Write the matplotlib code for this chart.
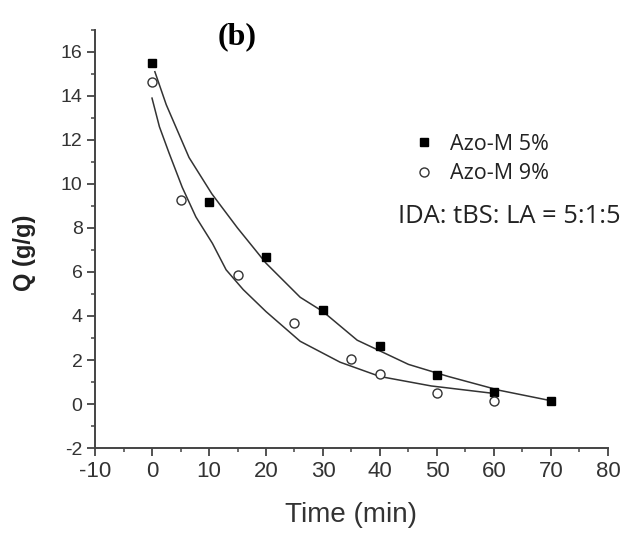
import numpy as np
import matplotlib.pyplot as plt
from matplotlib.ticker import MultipleLocator

# measured points
t_5 = [0, 10, 20, 30, 40, 50, 60, 70]
q_5 = [15.5, 9.2, 6.7, 4.25, 2.65, 1.3, 0.55, 0.15]
t_9 = [0, 5, 15, 25, 35, 40, 50, 60]
q_9 = [14.65, 9.25, 5.85, 3.7, 2.05, 1.35, 0.5, 0.12]

# fitted curves
fit_t5 = [0.5, 2.5, 6.5, 10.5, 15, 20, 26, 30, 36, 45, 52, 61, 70]
fit_q5 = [15.1, 13.6, 11.2, 9.55, 8.0, 6.4, 4.85, 4.2, 2.9, 1.8, 1.25, 0.62, 0.15]
fit_t9 = [0, 1.3, 3, 5.3, 7.7, 10.6, 13, 16, 20, 26, 33, 40, 49, 60]
fit_q9 = [13.9, 12.6, 11.4, 9.85, 8.5, 7.3, 6.1, 5.2, 4.2, 2.85, 1.9, 1.25, 0.82, 0.48]

plt.rcParams['font.family'] = ['Liberation Sans', 'DejaVu Sans']
plt.rcParams['axes.unicode_minus'] = False

fig = plt.figure(figsize=(6.23, 5.34), dpi=100)
ax = fig.add_axes([0.1525, 0.161, 0.8234, 0.783])

ax.plot(fit_t5, fit_q5, color='#333333', lw=1.1)
ax.plot(fit_t9, fit_q9, color='#333333', lw=1.1)
h1, = ax.plot(t_5, q_5, 's', color='black', ms=5.5, label='Azo-M 5%')
h2, = ax.plot(t_9, q_9, 'o', mfc='white', mec='#333333', mew=1.0, ms=6.5, label='Azo-M 9%')

ax.set_xlim(-10, 80)
ax.set_ylim(-2, 17)
ax.xaxis.set_major_locator(MultipleLocator(10))
ax.xaxis.set_minor_locator(MultipleLocator(5))
ax.yaxis.set_minor_locator(MultipleLocator(1))
ax.set_yticks(range(-2, 17, 2))
for s in ['top', 'right']:
    ax.spines[s].set_visible(False)
for s in ['left', 'bottom']:
    ax.spines[s].set_color('#444444')
    ax.spines[s].set_linewidth(1.4)
ax.tick_params(which='major', direction='out', length=6, width=1.3, color='#444444',
               labelcolor='#333333')
ax.tick_params(axis='x', which='major', labelsize=16, pad=3)
ax.tick_params(axis='y', which='major', labelsize=14, pad=3)
ax.tick_params(which='minor', direction='out', length=3, width=1.1, color='#444444')

ax.set_xlabel('Time (min)', fontsize=20, color='#333333')
ax.xaxis.set_label_coords(0.50, -0.16)
ax.xaxis.label.set_va('center')
ax.set_ylabel('Q (g/g)', fontsize=17, fontweight='bold', color='#222222')
ax.yaxis.set_label_coords(-0.137, 0.466)
ax.yaxis.label.set_va('center')

fig.text(0.381, 0.932, '(b)', fontsize=23, fontweight='bold',
         family=['Liberation Serif', 'DejaVu Serif'], ha='center', va='center')

leg = ax.legend(handles=[h1, h2], loc='upper left', bbox_to_anchor=(0.632, 0.786),
                bbox_transform=fig.transFigure, frameon=False, numpoints=1,
                handlelength=1.0, handletextpad=0.71, labelspacing=0.39,
                prop={'family': ['Open Sans', 'DejaVu Sans'], 'size': 15.5})
for txt in leg.get_texts():
    txt.set_color('#222222')

fig.text(0.639, 0.594, 'IDA: tBS: LA = 5:1:5', fontsize=18.4,
         family=['Open Sans', 'DejaVu Sans'], color='#222222', ha='left', va='center')

plt.savefig('out.png', dpi=100)
